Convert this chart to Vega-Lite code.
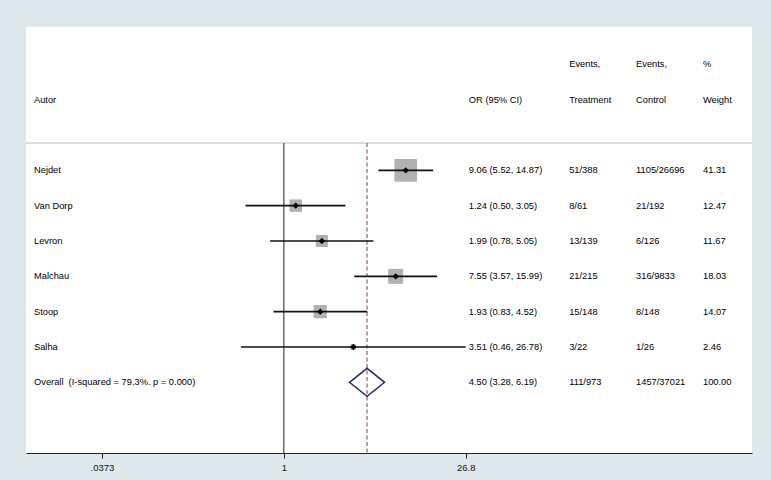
{
  "$schema": "https://vega.github.io/schema/vega-lite/v6.json",
  "width": 726,
  "height": 426,
  "autosize": "none",
  "padding": {"left": 26, "top": 27, "right": 19, "bottom": 27},
  "background": "#dfe8ea",
  "config": {"view": {"fill": "white", "stroke": null}, "font": "Liberation Sans", "text": {"font": "Liberation Sans"}},
  "datasets": {
    "studies": [
      {"study": "Nejdet", "or": 9.06, "lo": 5.52, "hi": 14.87, "weight": 41.31},
      {"study": "Van Dorp", "or": 1.24, "lo": 0.50, "hi": 3.05, "weight": 12.47},
      {"study": "Levron", "or": 1.99, "lo": 0.78, "hi": 5.05, "weight": 11.67},
      {"study": "Malchau", "or": 7.55, "lo": 3.57, "hi": 15.99, "weight": 18.03},
      {"study": "Stoop", "or": 1.93, "lo": 0.83, "hi": 4.52, "weight": 14.07},
      {"study": "Salha", "or": 3.51, "lo": 0.46, "hi": 26.78, "weight": 2.46}
    ],
    "overall": [
      {"study": "Overall", "or": 4.50, "lo": 3.28, "hi": 6.19, "weight": 100.0}
    ],
    "cells": [
      {"row": "ev", "col": "trt", "text": "Events,"},
      {"row": "ev", "col": "ctl", "text": "Events,"},
      {"row": "ev", "col": "wt", "text": "%"},
      {"row": "hd", "col": "name", "text": "Autor"},
      {"row": "hd", "col": "or", "text": "OR (95% CI)"},
      {"row": "hd", "col": "trt", "text": "Treatment"},
      {"row": "hd", "col": "ctl", "text": "Control"},
      {"row": "hd", "col": "wt", "text": "Weight"},
      {"row": "Nejdet", "col": "name", "text": "Nejdet"},
      {"row": "Nejdet", "col": "or", "text": "9.06 (5.52, 14.87)"},
      {"row": "Nejdet", "col": "trt", "text": "51/388"},
      {"row": "Nejdet", "col": "ctl", "text": "1105/26696"},
      {"row": "Nejdet", "col": "wt", "text": "41.31"},
      {"row": "Van Dorp", "col": "name", "text": "Van Dorp"},
      {"row": "Van Dorp", "col": "or", "text": "1.24 (0.50, 3.05)"},
      {"row": "Van Dorp", "col": "trt", "text": "8/61"},
      {"row": "Van Dorp", "col": "ctl", "text": "21/192"},
      {"row": "Van Dorp", "col": "wt", "text": "12.47"},
      {"row": "Levron", "col": "name", "text": "Levron"},
      {"row": "Levron", "col": "or", "text": "1.99 (0.78, 5.05)"},
      {"row": "Levron", "col": "trt", "text": "13/139"},
      {"row": "Levron", "col": "ctl", "text": "6/126"},
      {"row": "Levron", "col": "wt", "text": "11.67"},
      {"row": "Malchau", "col": "name", "text": "Malchau"},
      {"row": "Malchau", "col": "or", "text": "7.55 (3.57, 15.99)"},
      {"row": "Malchau", "col": "trt", "text": "21/215"},
      {"row": "Malchau", "col": "ctl", "text": "316/9833"},
      {"row": "Malchau", "col": "wt", "text": "18.03"},
      {"row": "Stoop", "col": "name", "text": "Stoop"},
      {"row": "Stoop", "col": "or", "text": "1.93 (0.83, 4.52)"},
      {"row": "Stoop", "col": "trt", "text": "15/148"},
      {"row": "Stoop", "col": "ctl", "text": "8/148"},
      {"row": "Stoop", "col": "wt", "text": "14.07"},
      {"row": "Salha", "col": "name", "text": "Salha"},
      {"row": "Salha", "col": "or", "text": "3.51 (0.46, 26.78)"},
      {"row": "Salha", "col": "trt", "text": "3/22"},
      {"row": "Salha", "col": "ctl", "text": "1/26"},
      {"row": "Salha", "col": "wt", "text": "2.46"},
      {"row": "Overall", "col": "name", "text": "Overall\u00a0 (I-squared = 79.3%. p = 0.000)"},
      {"row": "Overall", "col": "or", "text": "4.50 (3.28, 6.19)"},
      {"row": "Overall", "col": "trt", "text": "111/973"},
      {"row": "Overall", "col": "ctl", "text": "1457/37021"},
      {"row": "Overall", "col": "wt", "text": "100.00"}
    ]
  },
  "layer": [
    {
      "layer": [
        {
          "data": {"values": [{}]},
          "mark": {"type": "rule", "color": "#bdbdbd", "strokeWidth": 1, "yOffset": 8},
          "encoding": {
            "y": {"datum": "sep", "type": "nominal", "scale": {"type": "point", "domain": ["top", "ev", "hd", "sep", "Nejdet", "Van Dorp", "Levron", "Malchau", "Stoop", "Salha", "Overall", "b1", "b2"], "range": [2, 426], "padding": 0}, "axis": null}
          }
        },
        {
          "data": {"values": [{}]},
          "mark": {"type": "rule", "color": "#333333", "strokeWidth": 1.1, "yOffset": 8},
          "encoding": {
            "x": {"datum": 1, "type": "quantitative", "scale": {"type": "log", "domain": [0.00944, 4748], "nice": false}},
            "y": {"datum": "sep", "type": "nominal", "scale": {"type": "point", "domain": ["top", "ev", "hd", "sep", "Nejdet", "Van Dorp", "Levron", "Malchau", "Stoop", "Salha", "Overall", "b1", "b2"], "range": [2, 426], "padding": 0}, "axis": null},
            "y2": {"datum": "b2"}
          }
        },
        {
          "data": {"name": "overall"},
          "mark": {"type": "rule", "color": "#9a6a7e", "strokeWidth": 1.3, "strokeDash": [4, 2.5], "yOffset": 8},
          "encoding": {
            "x": {"field": "or", "type": "quantitative", "scale": {"type": "log", "domain": [0.00944, 4748], "nice": false}},
            "y": {"datum": "sep", "type": "nominal", "scale": {"type": "point", "domain": ["top", "ev", "hd", "sep", "Nejdet", "Van Dorp", "Levron", "Malchau", "Stoop", "Salha", "Overall", "b1", "b2"], "range": [2, 426], "padding": 0}, "axis": null},
            "y2": {"datum": "b2"}
          }
        },
        {
          "data": {"name": "studies"},
          "mark": {"type": "point", "shape": "square", "filled": true, "color": "#b1b1b1", "opacity": 1},
          "encoding": {
            "x": {
              "field": "or", "type": "quantitative",
              "scale": {"type": "log", "domain": [0.00944, 4748], "nice": false},
              "axis": {
                "values": [0.0373, 1, 26.8], "format": "~g",
                "labelExpr": "datum.value < 1 ? '.0373' : datum.label",
                "title": null, "grid": false,
                "domainColor": "#222222", "domainWidth": 1,
                "tickColor": "#222222", "tickWidth": 1, "tickSize": 5,
                "labelColor": "#111111", "labelFontSize": 9.5, "labelFont": "Liberation Sans",
                "labelPadding": 4, "labelFlush": false
              }
            },
            "y": {"field": "study", "type": "nominal", "scale": {"type": "point", "domain": ["top", "ev", "hd", "sep", "Nejdet", "Van Dorp", "Levron", "Malchau", "Stoop", "Salha", "Overall", "b1", "b2"], "range": [2, 426], "padding": 0}, "axis": null},
            "size": {"field": "weight", "type": "quantitative", "scale": {"type": "linear", "domain": [0, 41.31], "range": [0, 515], "zero": true}, "legend": null}
          }
        },
        {
          "data": {"name": "studies"},
          "mark": {"type": "rule", "color": "#111111", "strokeWidth": 1.6},
          "encoding": {
            "x": {"field": "lo", "type": "quantitative", "scale": {"type": "log", "domain": [0.00944, 4748], "nice": false}},
            "x2": {"field": "hi"},
            "y": {"field": "study", "type": "nominal", "scale": {"type": "point", "domain": ["top", "ev", "hd", "sep", "Nejdet", "Van Dorp", "Levron", "Malchau", "Stoop", "Salha", "Overall", "b1", "b2"], "range": [2, 426], "padding": 0}, "axis": null}
          }
        },
        {
          "data": {"name": "studies"},
          "mark": {"type": "point", "shape": "diamond", "filled": true, "color": "#000000", "size": 40, "opacity": 1},
          "encoding": {
            "x": {"field": "or", "type": "quantitative", "scale": {"type": "log", "domain": [0.00944, 4748], "nice": false}},
            "y": {"field": "study", "type": "nominal", "scale": {"type": "point", "domain": ["top", "ev", "hd", "sep", "Nejdet", "Van Dorp", "Levron", "Malchau", "Stoop", "Salha", "Overall", "b1", "b2"], "range": [2, 426], "padding": 0}, "axis": null}
          }
        },
        {
          "data": {"name": "overall"},
          "mark": {"type": "point", "shape": "M-1,0L0,-0.8L1,0L0,0.8Z", "filled": false, "color": "#2b2a6b", "strokeWidth": 1.5, "size": 1225, "opacity": 1},
          "encoding": {
            "x": {"field": "or", "type": "quantitative", "scale": {"type": "log", "domain": [0.00944, 4748], "nice": false}},
            "y": {"field": "study", "type": "nominal", "scale": {"type": "point", "domain": ["top", "ev", "hd", "sep", "Nejdet", "Van Dorp", "Levron", "Malchau", "Stoop", "Salha", "Overall", "b1", "b2"], "range": [2, 426], "padding": 0}, "axis": null}
          }
        }
      ]
    },
    {
      "data": {"name": "cells"},
      "mark": {"type": "text", "align": "left", "baseline": "middle", "fontSize": 9.3, "color": "#000000", "font": "Liberation Sans"},
      "encoding": {
        "x": {"field": "col", "type": "nominal", "scale": {"type": "point", "domain": ["name", "s1", "s2", "s3", "s4", "s5", "s6", "s7", "s8", "s9", "s10", "s11", "s12", "or", "s14", "s15", "trt", "s17", "ctl", "s19", "wt"], "range": [8, 677], "padding": 0}, "axis": null},
        "y": {"field": "row", "type": "nominal", "scale": {"type": "point", "domain": ["top", "ev", "hd", "sep", "Nejdet", "Van Dorp", "Levron", "Malchau", "Stoop", "Salha", "Overall", "b1", "b2"], "range": [2, 426], "padding": 0}, "axis": null},
        "text": {"field": "text"}
      }
    }
  ],
  "resolve": {"scale": {"x": "independent"}}
}
